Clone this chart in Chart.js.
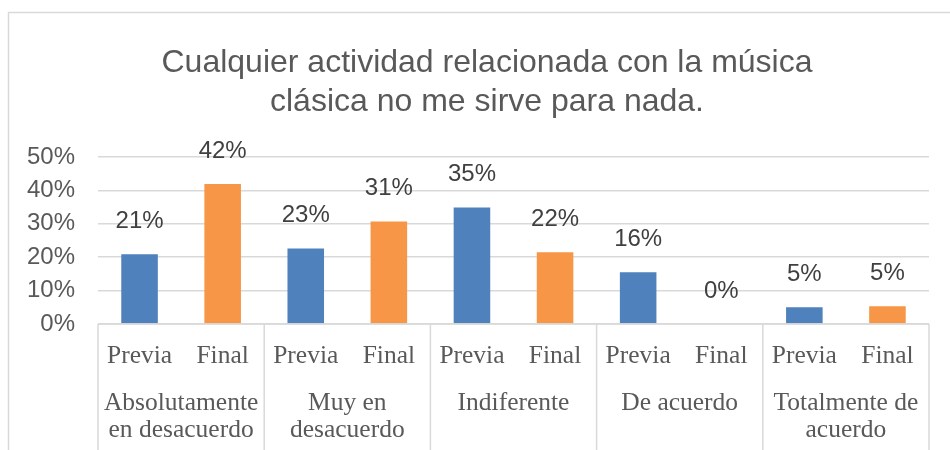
<!DOCTYPE html>
<html>
<head>
<meta charset="utf-8">
<script src="https://cdn.jsdelivr.net/npm/chart.js@4/dist/chart.umd.min.js"></script>
<style>
  html, body { margin: 0; padding: 0; background: #fff; }
  canvas { display: block; }
</style>
</head>
<body>
<canvas id="chartMusica" width="950" height="450"></canvas>
<script>
const groupLabels = [
  ['Absolutamente', 'en desacuerdo'],
  ['Muy en', 'desacuerdo'],
  'Indiferente',
  'De acuerdo',
  ['Totalmente de', 'acuerdo']
];
const subLabels = ['Previa', 'Final', 'Previa', 'Final', 'Previa', 'Final', 'Previa', 'Final', 'Previa', 'Final'];
const previa = [20.9, 22.6, 34.9, 15.5, 5.0];
const final = [41.9, 30.7, 21.5, 0, 5.3];
const yTicks = [0, 10, 20, 30, 40, 50];
const titleLines = ['Cualquier actividad relacionada con la música', 'clásica no me sirve para nada.'];

const gridColor = '#d9d9d9';
const sansFont = '"Liberation Sans", Arial, sans-serif';
const serifFont = '"Liberation Serif", "Times New Roman", serif';

// outer frame of the chart object + title (centred on the original chart box)
const framePlugin = {
  id: 'frame',
  beforeDraw(chart) {
    const ctx = chart.ctx;
    ctx.save();
    ctx.strokeStyle = gridColor;
    ctx.lineWidth = 1.5;
    ctx.beginPath();
    ctx.moveTo(8.5, chart.height);
    ctx.lineTo(8.5, 12.5);
    ctx.lineTo(chart.width, 12.5);
    ctx.stroke();

    ctx.font = '32px ' + sansFont;
    ctx.fillStyle = '#595959';
    ctx.textAlign = 'center';
    ctx.textBaseline = 'alphabetic';
    titleLines.forEach((line, i) => {
      ctx.fillText(line, 487, 72 + i * 39);
    });
    ctx.restore();
  }
};

// vertical separators between the category groups, below the plot
const separatorPlugin = {
  id: 'separators',
  afterDraw(chart) {
    const x = chart.scales.x;
    const ctx = chart.ctx;
    const step = x.getPixelForValue(1) - x.getPixelForValue(0);
    ctx.save();
    ctx.strokeStyle = gridColor;
    ctx.lineWidth = 1.5;
    ctx.beginPath();
    for (let i = 0; i <= groupLabels.length; i++) {
      const px = x.getPixelForValue(0) - step / 2 + i * step;
      ctx.moveTo(px, chart.chartArea.bottom);
      ctx.lineTo(px, chart.height);
    }
    ctx.moveTo(chart.chartArea.left, chart.chartArea.bottom);
    ctx.lineTo(chart.chartArea.right, chart.chartArea.bottom);
    ctx.stroke();
    ctx.restore();
  }
};

// value labels above the bars
const valueLabelPlugin = {
  id: 'valueLabels',
  afterDatasetsDraw(chart) {
    const ctx = chart.ctx;
    ctx.save();
    ctx.font = '24px ' + sansFont;
    ctx.fillStyle = '#404040';
    ctx.textAlign = 'center';
    ctx.textBaseline = 'middle';
    chart.data.datasets.forEach((ds, di) => {
      const meta = chart.getDatasetMeta(di);
      meta.data.forEach((bar, i) => {
        ctx.fillText(Math.round(ds.data[i]) + '%', bar.x, bar.y - 33);
      });
    });
    ctx.restore();
  }
};

const canvas = document.getElementById('chartMusica');
new Chart(canvas, {
  type: 'bar',
  data: {
    labels: groupLabels,
    datasets: [
      { label: 'Previa', data: previa, backgroundColor: '#4f81bd', xAxisID: 'x', yAxisID: 'y' },
      { label: 'Final', data: final, backgroundColor: '#f79646', xAxisID: 'x', yAxisID: 'y' }
    ]
  },
  options: {
    responsive: false,
    animation: false,
    layout: { padding: { left: 0, right: 21, top: 157, bottom: 0 } },
    datasets: {
      bar: { categoryPercentage: 1, barPercentage: 0.44 }
    },
    plugins: {
      legend: { display: false },
      tooltip: { enabled: false },
      title: { display: false }
    },
    scales: {
      y: {
        min: 0,
        max: 50,
        afterBuildTicks: s => { s.ticks = yTicks.map(v => ({ value: v })); },
        afterFit: s => { s.width = 98; },
        border: { display: false },
        grid: { color: gridColor, lineWidth: 1.5, drawTicks: false },
        ticks: {
          padding: 23,
          color: '#595959',
          font: { family: sansFont, size: 24 },
          callback: v => v + '%'
        }
      },
      xs: {
        type: 'category',
        position: 'bottom',
        labels: subLabels,
        offset: true,
        weight: 0,
        afterFit: s => { s.height = 48; },
        border: { display: false },
        grid: { display: false },
        ticks: {
          padding: 9,
          autoSkip: false,
          maxRotation: 0,
          color: '#595959',
          font: { family: serifFont, size: 25.5, lineHeight: 1.2 }
        }
      },
      x: {
        type: 'category',
        position: 'bottom',
        weight: 1,
        afterFit: s => { s.height = 78; },
        border: { display: false },
        grid: { display: false },
        ticks: {
          padding: 10,
          autoSkip: false,
          maxRotation: 0,
          color: '#595959',
          font: { family: serifFont, size: 25.5, lineHeight: 1.05 }
        }
      }
    }
  },
  plugins: [framePlugin, separatorPlugin, valueLabelPlugin]
});
</script>
</body>
</html>
